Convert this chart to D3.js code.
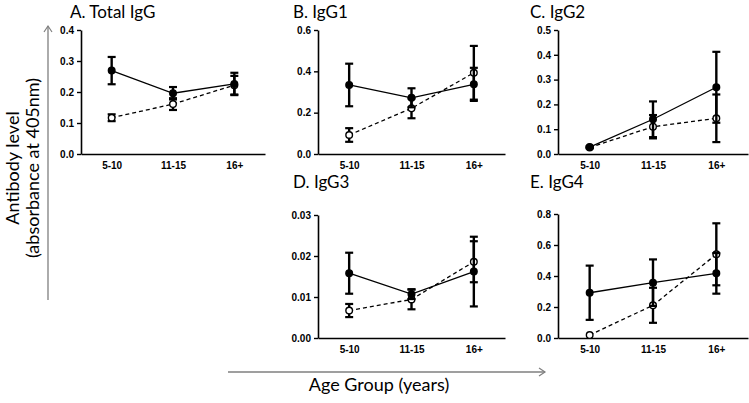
<!DOCTYPE html>
<html><head><meta charset="utf-8">
<script src="https://cdn.jsdelivr.net/npm/d3@7"></script>
<style>body{margin:0;background:#fff}svg{display:block}</style>
</head><body><svg id="c" width="749" height="403"></svg>
<script>
const categories = ["5-10","11-15","16+"];
// [mean, sem] per age group; solid = filled circles, dashed = open circles
const totalIgG_solid  = [[0.269,0.044],[0.196,0.020],[0.226,0.036]];
const totalIgG_dashed = [[0.117,0.011],[0.161,0.019],[0.222,0.030]];
const igg1_solid  = [[0.334,0.103],[0.272,0.046],[0.337,0.080]];
const igg1_dashed = [[0.092,0.033],[0.221,0.048],[0.393,0.130]];
const igg2_solid  = [[0.028,0.004],[0.140,0.072],[0.269,0.143]];
const igg2_dashed = [[0.026,0.003],[0.110,0.047],[0.144,0.096]];
const igg3_solid  = [[0.0158,0.0050],[0.0107,0.0012],[0.0162,0.0085]];
const igg3_dashed = [[0.0067,0.0016],[0.0094,0.0024],[0.0186,0.0050]];
const igg4_solid  = [[0.292,0.175],[0.357,0.150],[0.417,0.131]];
const igg4_dashed = [[0.019,0.000],[0.211,0.113],[0.540,0.200]];
const titles = ["A. Total IgG","B.  IgG1","C.  IgG2","D.  IgG3","E.  IgG4"];
const yTicksA = [0,0.1,0.2,0.3,0.4];
const yTicksB = [0,0.2,0.4,0.6];
const yTicksC = [0,0.1,0.2,0.3,0.4,0.5];
const yTicksD = [0,0.01,0.02,0.03];
const yTicksE = [0,0.2,0.4,0.6,0.8];
const yLabel1 = "Antibody level";
const yLabel2 = "(absorbance at 405nm)";
const xLabel = "Age Group (years)";

const panels = [
  {title:titles[0], solid:totalIgG_solid, dashed:totalIgG_dashed, ticks:yTicksA, fmt:".1f", x0:81,  x1:265, y0:154, y1:30,  tx:70,  ty:18},
  {title:titles[1], solid:igg1_solid, dashed:igg1_dashed, ticks:yTicksB, fmt:".1f", x0:318, x1:505, y0:154, y1:30,  tx:293, ty:18},
  {title:titles[2], solid:igg2_solid, dashed:igg2_dashed, ticks:yTicksC, fmt:".1f", x0:558, x1:748, y0:154, y1:30,  tx:530, ty:18},
  {title:titles[3], solid:igg3_solid, dashed:igg3_dashed, ticks:yTicksD, fmt:".2f", x0:318, x1:505, y0:338, y1:215, tx:293, ty:188},
  {title:titles[4], solid:igg4_solid, dashed:igg4_dashed, ticks:yTicksE, fmt:".1f", x0:558, x1:748, y0:338, y1:214, tx:530, ty:188}
];

const svg = d3.select("#c");
const tickFont = "'Liberation Sans', Arial, sans-serif";
const textFont = "Lato, 'Open Sans', sans-serif";

panels.forEach(p => {
  const x = d3.scalePoint().domain(categories).range([p.x0, p.x1]).padding(0.5);
  const y = d3.scaleLinear().domain([0, d3.max(p.ticks)]).range([p.y0, p.y1]);
  const g = svg.append("g");

  g.append("text").attr("x", p.tx).attr("y", p.ty).text(p.title)
    .attr("font-family", textFont).attr("font-size", 17).attr("fill", "#000");

  const ya = g.append("g").attr("transform", `translate(${p.x0},0)`)
    .call(d3.axisLeft(y).tickValues(p.ticks).tickFormat(d3.format(p.fmt)).tickSize(4).tickSizeOuter(0));
  const xa = g.append("g").attr("transform", `translate(0,${p.y0})`)
    .call(d3.axisBottom(x).tickSize(0).tickPadding(8));
  [ya, xa].forEach(a => {
    a.select(".domain").attr("stroke", "#000").attr("stroke-width", 1.6);
    a.selectAll(".tick line").attr("stroke", "#000").attr("stroke-width", 1.4);
    a.selectAll("text").attr("font-family", tickFont).attr("font-weight", "bold")
      .attr("font-size", 10).attr("fill", "#000");
  });

  [["dashed", p.dashed], ["solid", p.solid]].forEach(([kind, data]) => {
    const line = d3.line().x((d, i) => x(categories[i])).y(d => y(d[0]));
    g.append("path").datum(data).attr("d", line).attr("fill", "none")
      .attr("stroke", "#000").attr("stroke-width", 1.3)
      .attr("stroke-dasharray", kind === "dashed" ? "4,3" : null);
    const eb = g.append("g");
    data.forEach((d, i) => {
      if (d[1] <= 0) return;
      const cx = x(categories[i]);
      const top = y(d[0] + d[1]), bot = y(d[0] - d[1]);
      eb.append("line").attr("x1", cx).attr("x2", cx).attr("y1", top).attr("y2", bot)
        .attr("stroke", "#000").attr("stroke-width", 2.4);
      [top, bot].forEach(yy => eb.append("line").attr("x1", cx - 4).attr("x2", cx + 4)
        .attr("y1", yy).attr("y2", yy).attr("stroke", "#000").attr("stroke-width", 2.2));
    });
    g.append("g").selectAll("circle").data(data).join("circle")
      .attr("cx", (d, i) => x(categories[i])).attr("cy", d => y(d[0]))
      .attr("r", 3.3)
      .attr("fill", kind === "dashed" ? "#fff" : "#000")
      .attr("stroke", "#000").attr("stroke-width", 1.4);
  });
});

// side arrows and labels
const grey = "#7f7f7f";
svg.append("line").attr("x1", 48).attr("x2", 48).attr("y1", 300).attr("y2", 26)
  .attr("stroke", grey).attr("stroke-width", 1.3);
svg.append("path").attr("d", "M44,32 L48,26 L52,32").attr("fill", "none").attr("stroke", grey).attr("stroke-width", 1.2);
svg.append("line").attr("x1", 228).attr("x2", 545).attr("y1", 372).attr("y2", 372)
  .attr("stroke", grey).attr("stroke-width", 1.3);
svg.append("path").attr("d", "M539,368 L545,372 L539,376").attr("fill", "none").attr("stroke", grey).attr("stroke-width", 1.2);

svg.append("text").attr("transform", "translate(19,168) rotate(-90)").attr("text-anchor", "middle")
  .attr("font-family", textFont).attr("font-size", 18).text(yLabel1);
svg.append("text").attr("transform", "translate(39,168) rotate(-90)").attr("text-anchor", "middle")
  .attr("font-family", textFont).attr("font-size", 18).text(yLabel2);
svg.append("text").attr("x", 379).attr("y", 391).attr("text-anchor", "middle")
  .attr("font-family", textFont).attr("font-size", 18).text(xLabel);
</script></body></html>
